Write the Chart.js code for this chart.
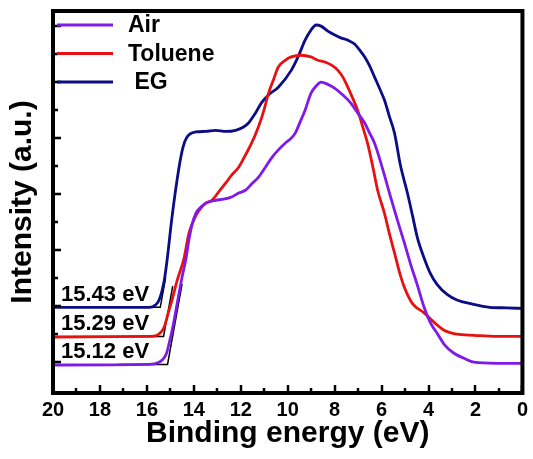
<!DOCTYPE html>
<html>
<head>
<meta charset="utf-8">
<script src="https://cdn.jsdelivr.net/npm/chart.js@4.4.1/dist/chart.umd.min.js"></script>
<style>
  html, body { margin: 0; padding: 0; background: #fff; }
</style>
</head>
<body>
<canvas id="upsChart" width="533" height="459"></canvas>
<script>
// UPS secondary electron cutoff spectra
const sampleNames = ['Air', 'Toluene', ' EG'];
const sampleColors = ['#7f1ae8', '#e61212', '#0c0c86'];

const airEnergy = [20, 15.9, 15.48, 15.35, 15.18, 15.05, 14.88, 14.76, 14.63, 14.5, 14.33, 14.21, 14.08, 13.91, 13.7, 13.49, 13.07, 12.73, 12.39, 12.09, 11.8, 11.54, 11.25, 10.95, 10.7, 10.4, 10.11, 9.85, 9.68, 9.47, 9.26, 9.01, 8.79, 8.58, 8.29, 7.99, 7.65, 7.32, 7.02, 6.72, 6.51, 6.3, 6.09, 5.88, 5.62, 5.33, 5.03, 4.78, 4.48, 4.19, 3.93, 3.64, 3.3, 2.92, 2.49, 2.07, 1.1, 0];
const airIntensity = [-0.05, -0.04, 0.0, 0.04, 0.14, 0.34, 0.66, 0.93, 1.23, 1.52, 1.86, 2.18, 2.45, 2.66, 2.77, 2.84, 2.89, 2.91, 2.95, 3.02, 3.07, 3.18, 3.3, 3.48, 3.64, 3.79, 3.91, 4.0, 4.09, 4.29, 4.5, 4.8, 4.93, 5.0, 4.96, 4.89, 4.77, 4.63, 4.45, 4.27, 4.09, 3.91, 3.64, 3.34, 2.95, 2.54, 2.13, 1.77, 1.38, 0.98, 0.71, 0.52, 0.3, 0.16, 0.07, 0.0, -0.02, -0.02];

const tolueneEnergy = [20, 15.9, 15.56, 15.39, 15.26, 15.09, 14.93, 14.71, 14.42, 14.21, 14.0, 13.78, 13.49, 13.23, 12.94, 12.64, 12.39, 12.09, 11.8, 11.54, 11.25, 11.04, 10.82, 10.61, 10.4, 10.11, 9.85, 9.43, 9.01, 8.71, 8.41, 8.08, 7.86, 7.65, 7.44, 7.23, 7.02, 6.81, 6.6, 6.39, 6.17, 5.88, 5.67, 5.45, 5.24, 5.03, 4.69, 4.19, 3.76, 3.34, 2.79, 2.07, 1.1, 0];
const tolueneIntensity = [0.45, 0.46, 0.48, 0.54, 0.63, 0.88, 1.11, 1.46, 1.85, 2.3, 2.54, 2.71, 2.84, 2.89, 3.04, 3.2, 3.34, 3.48, 3.7, 3.91, 4.2, 4.46, 4.8, 5.04, 5.27, 5.39, 5.45, 5.48, 5.45, 5.39, 5.36, 5.29, 5.21, 5.09, 4.91, 4.71, 4.5, 4.21, 3.91, 3.52, 3.07, 2.66, 2.3, 1.95, 1.61, 1.34, 1.05, 0.88, 0.71, 0.57, 0.5, 0.48, 0.46, 0.46];

const egEnergy = [20, 18.9, 15.9, 15.64, 15.48, 15.26, 15.14, 14.93, 14.63, 14.46, 14.29, 13.91, 13.49, 13.07, 12.64, 12.22, 11.88, 11.67, 11.37, 11.12, 10.82, 10.4, 9.85, 9.56, 9.26, 9.01, 8.79, 8.58, 8.29, 7.99, 7.74, 7.44, 7.15, 6.93, 6.72, 6.51, 6.3, 6.09, 5.88, 5.67, 5.45, 5.2, 4.9, 4.69, 4.48, 4.19, 3.93, 3.64, 3.21, 2.79, 2.16, 1.4, 0.68, 0];
const egIntensity = [0.98, 0.98, 0.98, 1.02, 1.11, 1.46, 1.82, 2.59, 3.48, 3.84, 4.02, 4.11, 4.12, 4.14, 4.12, 4.14, 4.2, 4.27, 4.45, 4.63, 4.77, 4.91, 5.21, 5.45, 5.75, 5.93, 6.02, 6.0, 5.91, 5.84, 5.79, 5.75, 5.68, 5.57, 5.45, 5.29, 5.09, 4.89, 4.68, 4.39, 4.09, 3.52, 3.02, 2.63, 2.23, 1.86, 1.59, 1.39, 1.21, 1.11, 1.04, 0.98, 0.97, 0.96];

// linear fits used for the cutoff (baseline + leading edge), same order as sampleNames
const cutoffEnergy = [15.12, 15.29, 15.43];
const baselineIntensity = [-0.04, 0.46, 0.98];
const fitStartEnergy = [17.2, 16.7, 16.3];
const fitEndEnergy = [14.5, 14.9, 15.2];
const fitEndIntensity = [1.4, 1.36, 1.51];

const xTickLabels = [20, 18, 16, 14, 12, 10, 8, 6, 4, 2, 0];
const xMinorTicks = [20, 19, 18, 17, 16, 15, 14, 13, 12, 11, 10, 9, 8, 7, 6, 5, 4, 3, 2, 1, 0];
const yMinorTicks = [0, 0.5, 1, 1.5, 2, 2.5, 3, 3.5, 4, 4.5, 5, 5.5, 6];

const FONT = "'Liberation Sans', Arial, sans-serif";

function toPoints(xs, ys) {
    return xs.map((e, i) => ({ x: e, y: ys[i] }));
}

const spectra = [
    toPoints(airEnergy, airIntensity),
    toPoints(tolueneEnergy, tolueneIntensity),
    toPoints(egEnergy, egIntensity)
];

const datasets = spectra.map((pts, i) => ({
    label: sampleNames[i],
    data: pts,
    borderColor: sampleColors[i],
    backgroundColor: sampleColors[i],
    borderWidth: 2.8,
    pointRadius: 0,
    cubicInterpolationMode: 'monotone'
}));

cutoffEnergy.forEach((c, i) => {
    datasets.push({
        label: 'fit',
        data: [
            { x: fitStartEnergy[i], y: baselineIntensity[i] },
            { x: c, y: baselineIntensity[i] },
            { x: fitEndEnergy[i], y: fitEndIntensity[i] }
        ],
        borderColor: '#000',
        borderWidth: 1.5,
        pointRadius: 0,
        tension: 0
    });
});

// frame, inward ticks, legend and cutoff labels
const framePlugin = {
    id: 'frame',
    afterDatasetsDraw(chart) {
        const { ctx, chartArea: a, scales } = chart;
        const x = scales.x, y = scales.y;
        ctx.save();
        ctx.strokeStyle = '#000';
        ctx.lineWidth = 2.5;
        ctx.beginPath();
        xMinorTicks.forEach(e => {
            const px = Math.round(x.getPixelForValue(e));
            const len = e % 2 === 0 ? 8 : 5;
            ctx.moveTo(px, a.bottom);
            ctx.lineTo(px, a.bottom - len);
        });
        yMinorTicks.forEach(v => {
            const py = Math.round(y.getPixelForValue(v));
            const len = v % 1 === 0 ? 8 : 5;
            ctx.moveTo(a.left, py);
            ctx.lineTo(a.left + len, py);
        });
        ctx.stroke();

        ctx.lineWidth = 4;
        ctx.strokeRect(a.left, a.top, a.right - a.left, a.bottom - a.top);

        // legend
        ctx.font = 'bold 23px ' + FONT;
        ctx.textBaseline = 'middle';
        ctx.textAlign = 'left';
        sampleNames.forEach((name, i) => {
            const ly = a.top + 14 + i * 28.5;
            ctx.strokeStyle = sampleColors[i];
            ctx.lineWidth = 3;
            ctx.beginPath();
            ctx.moveTo(a.left + 4, ly);
            ctx.lineTo(a.left + 60, ly);
            ctx.stroke();
            ctx.fillStyle = '#000';
            ctx.fillText(name, a.left + 75, ly + 1);
        });

        // cutoff values
        ctx.font = 'bold 22px ' + FONT;
        cutoffEnergy.forEach((c, i) => {
            const py = y.getPixelForValue(baselineIntensity[i]);
            ctx.fillText(c.toFixed(2) + ' eV', a.left + 8, py - 12);
        });
        ctx.restore();
    }
};

const ctx = document.getElementById('upsChart').getContext('2d');

const upsChart = new Chart(ctx, {
    type: 'line',
    data: { datasets: datasets },
    options: {
        responsive: false,
        animation: false,
        layout: { padding: { top: 11, right: 7, left: 0, bottom: 0 } },
        plugins: {
            legend: { display: false },
            tooltip: { enabled: false }
        },
        scales: {
            x: {
                type: 'linear',
                reverse: true,
                min: 0,
                max: 20,
                grid: { display: false, drawTicks: false },
                border: { display: false },
                afterBuildTicks: (scale) => {
                    scale.ticks = xTickLabels.map(v => ({ value: v }));
                },
                afterFit: (scale) => { scale.height = 66; },
                ticks: {
                    padding: 5,
                    color: '#000',
                    font: { family: FONT, size: 20, weight: 'bold' },
                    callback: (v) => String(v)
                },
                title: {
                    display: true,
                    text: 'Binding energy (eV)',
                    color: '#000',
                    font: { family: FONT, size: 30, weight: 'bold' },
                    padding: { top: 0, bottom: 7 }
                }
            },
            y: {
                type: 'linear',
                min: -0.55,
                max: 6.27,
                grid: { display: false, drawTicks: false },
                border: { display: false },
                ticks: { display: false },
                afterFit: (scale) => { scale.width = 53; },
                title: {
                    display: true,
                    text: 'Intensity (a.u.)',
                    color: '#000',
                    font: { family: FONT, size: 30, weight: 'bold' },
                    padding: { top: 5, bottom: 0 }
                }
            }
        }
    },
    plugins: [framePlugin]
});
</script>
</body>
</html>
